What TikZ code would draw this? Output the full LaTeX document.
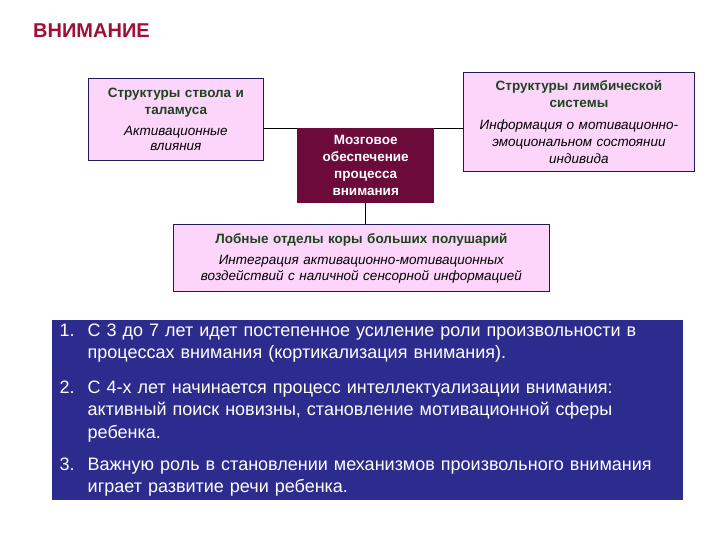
\documentclass[tikz,border=0pt]{standalone}
\usepackage{fontspec}
\setmainfont{Liberation Sans}
\definecolor{titlered}{HTML}{A00F35}
\definecolor{lilac}{HTML}{FDD5FB}
\definecolor{navyline}{HTML}{1C1C5C}
\definecolor{headgreen}{HTML}{1E441E}
\definecolor{maroon}{HTML}{6C0A3A}
\definecolor{listblue}{HTML}{2C2C8E}

\begin{document}
\begin{tikzpicture}[x=1pt,y=-1pt,
  pinkbox/.style={draw=navyline, fill=lilac, line width=0.8pt, align=center, inner sep=0pt,
    font=\fontsize{13.5}{17}\selectfont},
  link/.style={draw=black, line width=0.8pt}]

\useasboundingbox[fill=white] (0,0) rectangle (720,540);

\node[anchor=base west, inner sep=0pt, text=titlered, font=\bfseries\fontsize{20}{22}\selectfont] (title) at (33,38) {ВНИМАНИЕ};

\node[pinkbox, anchor=north west, minimum width=175, minimum height=82, text width=172pt] (stem) at (88,78)
  {{\bfseries\color{headgreen}Структуры ствола и\\ таламуса}\\[4pt]
   {\itshape Активационные\\[-2pt] влияния}};

\node[pinkbox, anchor=north west, minimum width=231, minimum height=99, text width=228pt] (limbic) at (463,72)
  {{\bfseries\color{headgreen}Структуры лимбической\\ системы}\\[5pt]
   {\itshape Информация о мотивационно-\\ эмоциональном состоянии\\ индивида}};

\node[fill=maroon, text=white, anchor=north west, minimum width=137, minimum height=75, text width=134pt,
  align=center, inner sep=0pt, font=\bfseries\fontsize{13.5}{17}\selectfont] (brain) at (297,128)
  {Мозговое\\ обеспечение\\ процесса\\ внимания};

\node[pinkbox, anchor=north west, minimum width=376, minimum height=67, text width=373pt] (frontal) at (173,224)
  {{\bfseries\color{headgreen}Лобные отделы коры больших полушарий}\\[4pt]
   {\itshape Интеграция активационно-мотивационных\\[-1pt] воздействий с наличной сенсорной информацией}};

\draw[link] (brain.north west) -- (brain.north west -| stem.east);
\draw[link] (brain.north east) -- (brain.north east -| limbic.west);
\draw[link] (brain.south) -- (frontal.north -| brain.south);

\node[fill=listblue, text=white, anchor=north west, minimum width=631, minimum height=180, text width=620pt,
  align=left, inner sep=0pt, font=\fontsize{18}{22.5}\selectfont] (ages) at (52,320)
  {\hspace*{2pt}\makebox[28pt][l]{1.}\parbox[t]{585pt}{С 3 до 7 лет идет постепенное усиление роли произвольности в\\ процессах внимания (кортикализация внимания).}\\[17pt]
   \hspace*{2pt}\makebox[28pt][l]{2.}\parbox[t]{585pt}{С 4-х лет начинается процесс интеллектуализации внимания:\\ активный поиск новизны, становление мотивационной сферы\\ ребенка.}\\[15pt]
   \hspace*{2pt}\makebox[28pt][l]{3.}\parbox[t]{585pt}{Важную роль в становлении механизмов произвольного внимания\\ играет развитие речи ребенка.}};

\end{tikzpicture}
\end{document}
